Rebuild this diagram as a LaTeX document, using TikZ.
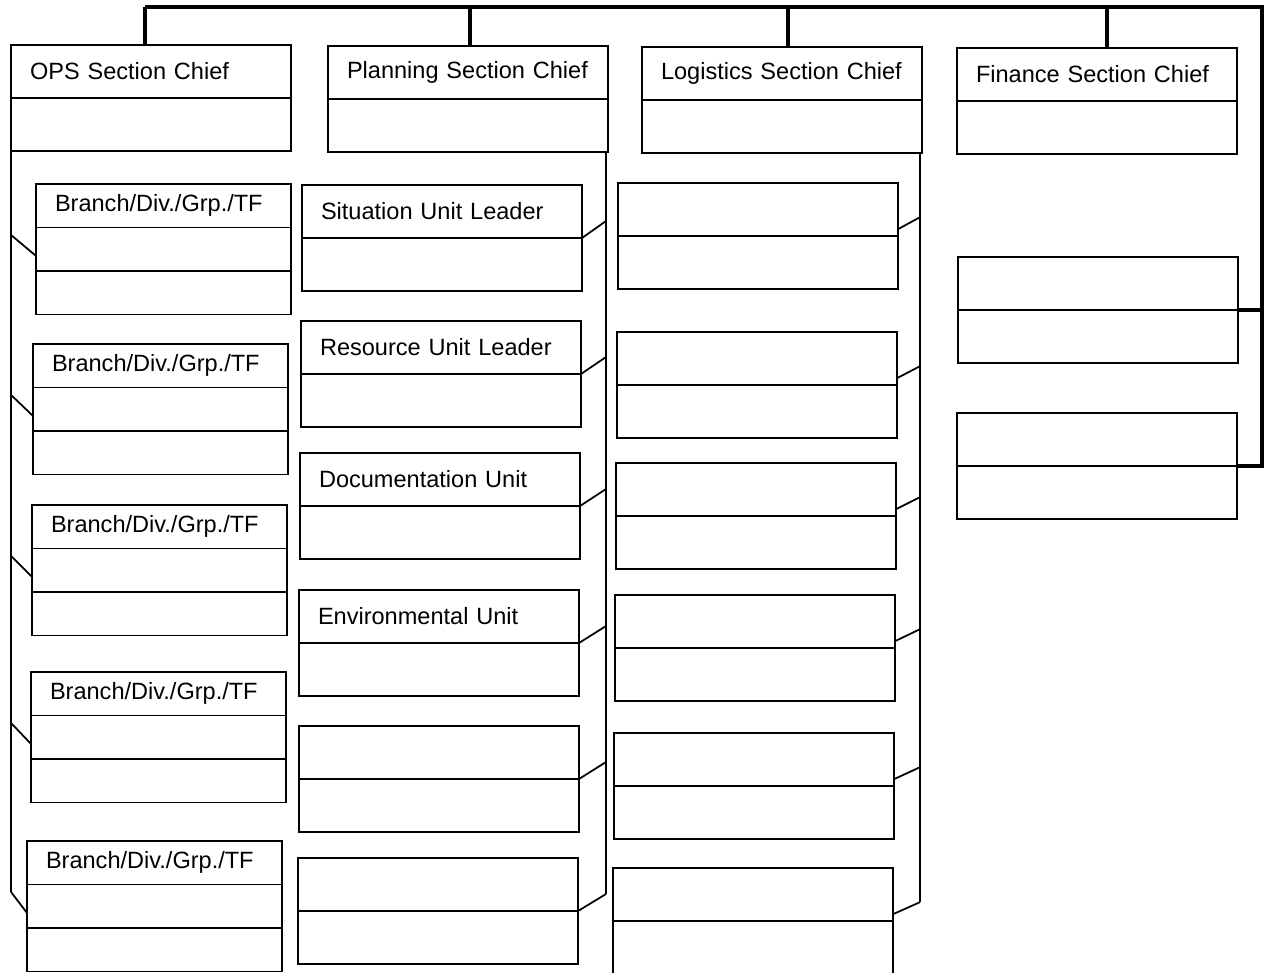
\documentclass[tikz,border=0pt]{standalone}
\usepackage{fontspec}
\setmainfont{Liberation Sans}
\usetikzlibrary{positioning,calc}

\tikzset{
  cell/.style={draw, line width=1pt, inner sep=0pt, outer sep=0pt, minimum height=10.6mm, minimum width=56mm},
  thinrow/.style={minimum height=8.7mm, minimum width=51mm},
  title/.style={font=\fontsize{13.4}{16}\selectfont, align=left, text width=#1, inner xsep=3.8mm},
  title/.default=48.4mm,
  link/.style={line width=1pt},
  bus/.style={line width=2.8pt, line join=miter}
}

\begin{document}
\begin{tikzpicture}[x=0.2mm, y=-0.2mm]
\useasboundingbox (0,0) rectangle (1265,973);

% section chiefs
\node[cell, title, anchor=north west] (ops) at (11,45) {OPS Section Chief};
\node[cell, below=0pt of ops] (opsb) {};
\node[cell, title, anchor=north west] (plan) at (328,46) {Planning Section Chief};
\node[cell, below=0pt of plan] (planb) {};
\node[cell, title, anchor=north west] (log) at (642,47) {Logistics Section Chief};
\node[cell, below=0pt of log] (logb) {};
\node[cell, title, anchor=north west] (fin) at (957,48) {Finance Section Chief};
\node[cell, below=0pt of fin] (finb) {};

% top bus
\coordinate (busR) at (1262,7);
\foreach \n/\x in {ops/145, plan/470, log/788, fin/1107} {
  \coordinate (top\n) at (\x,7);
  \draw[bus] (top\n) -- (top\n |- \n.north);
}

% ops branches
\foreach \i/\x/\y in {1/36/184, 2/33/344, 3/32/505, 4/31/672, 5/27/841} {
  \node[cell, thinrow, title=43.4mm, anchor=north west] (br\i) at (\x,\y) {Branch/Div./Grp./TF};
  \node[cell, thinrow, below=0pt of br\i] (brm\i) {};
  \node[cell, thinrow, below=0pt of brm\i] (brl\i) {};
  \coordinate (ot\i) at ($(opsb.south west |- brm\i.183)+(0,-21)$);
  \draw[link] (ot\i) -- (brm\i.183);
}
\draw[link] (opsb.south west) -- (ot5);

% planning units
\foreach \i/\x/\y/\t in {1/302/185/Situation Unit Leader, 2/301/321/Resource Unit Leader,
    3/300/453/Documentation Unit, 4/299/590/Environmental Unit, 5/299/726/, 6/298/858/} {
  \node[cell, title, anchor=north west] (pu\i) at (\x,\y) {\t};
  \node[cell, below=0pt of pu\i] (pub\i) {};
  \coordinate (pt\i) at ($(planb.south east |- pu\i.south east)+(-2,-17)$);
  \draw[link] (pt\i) -- (pu\i.south east);
}
\draw[link] ($(planb.south east)+(-2,0)$) -- (pt6);

% logistics units
\foreach \i/\x/\y in {1/618/183, 2/617/332, 3/616/463, 4/615/595, 5/614/733, 6/613/868} {
  \node[cell, anchor=north west] (lu\i) at (\x,\y) {};
  \node[cell, below=0pt of lu\i] (lub\i) {};
  \coordinate (lt\i) at ($(logb.south east |- lu\i.-8)+(-2,-12)$);
  \draw[link] (lt\i) -- (lu\i.-8);
}
\draw[link] ($(logb.south east)+(-2,0)$) -- (lt6);

% finance units
\node[cell, anchor=north west] (fu1) at (958,257) {};
\node[cell, below=0pt of fu1] (fub1) {};
\node[cell, anchor=north west] (fu2) at (957,413) {};
\node[cell, below=0pt of fu2] (fub2) {};

\draw[bus] (topops) -- (busR) -- (busR |- fu2.south east) -- (fu2.south east);
\draw[bus] (fu1.south east) -- (fu1.south east -| busR);

\end{tikzpicture}
\end{document}
